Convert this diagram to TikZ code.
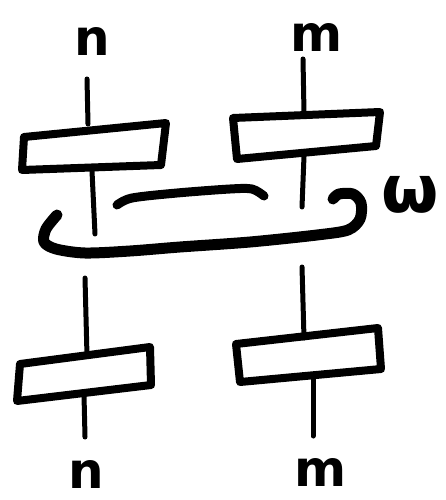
\documentclass[tikz,border=0pt]{standalone}
\usepackage{fontspec}
\newfontfamily\handfont{DejaVu Sans}

\tikzset{
  wire/.style={line width=5pt, line cap=round},
  boxline/.style={line width=8pt, line join=round, line cap=round},
  cupline/.style={line width=11pt, line cap=round, line join=round},
  lbl/.style={font=\handfont\bfseries\fontsize{50}{50}\selectfont, inner sep=0pt},
}

\begin{document}
\begin{tikzpicture}[x=1pt, y=-1pt]

        \useasboundingbox (0,0) rectangle (445,500);

        % === Labels ===
        \node[lbl] (topN) at (92,41) {n};
        \node[lbl] (topM) at (317,37) {m};
        \node[lbl] (botN) at (86,474) {n};
        \node[lbl] (botM) at (321,472) {m};
        \node[lbl, font=\handfont\bfseries\fontsize{66}{66}\selectfont] (omegaLbl) at (410,195) {ω};

        % === Top boxes ===
        \draw[boxline] (24,137) -- (166,123) -- (161,165) -- (22,170) -- cycle;
        \draw[boxline] (233,118) -- (380,112) -- (376,146) -- (237,159) -- cycle;

        % === Bottom boxes ===
        \draw[boxline] (20,364) -- (150,347) -- (151,385) -- (17,401) -- cycle;
        \draw[boxline] (236,344) -- (378,328) -- (381,369) -- (240,382) -- cycle;

        % === Wires through the top boxes ===
        \draw[wire] (87,79) -- (88,124);
        \draw[wire] (92,171) -- (95,234);
        \draw[wire] (303,59) -- (304,113);
        \draw[wire] (304,156) -- (302,207);

        % === Wires through the bottom boxes ===
        \draw[wire] (85,278) -- (87,356);
        \draw[wire] (84,395) -- (85,437);
        \draw[wire] (302,267) -- (304,338);
        \draw[wire] (313,377) -- (313,436);

        % === Middle strand ===
        \draw[cupline, line width=9pt]
            plot[smooth] coordinates {(117,205) (132,198) (177,193) (230,189) (252,189) (264,196)};

        % === Hook (omega) ===
        \draw[cupline]
            plot[smooth] coordinates {(57,215) (46,229) (44,242) (56,249) (85,253) (130,251)
                (180,247) (250,242) (317,235) (348,230) (360,219) (361,203) (353,194)
                (339,194) (333,199)};

    \end{tikzpicture}
\end{document}
